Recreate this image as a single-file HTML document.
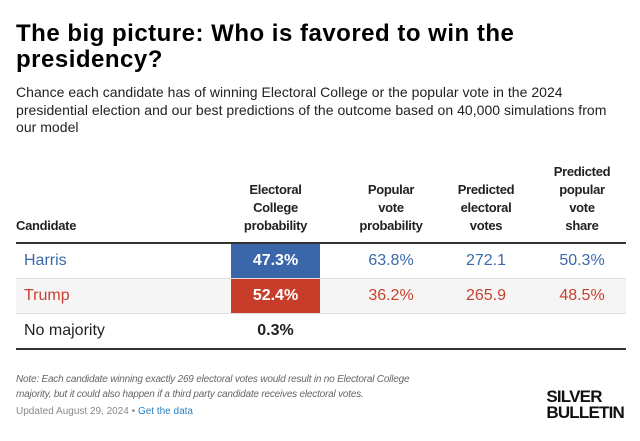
<!DOCTYPE html>
<html><head><meta charset="utf-8"><style>
body{margin:0;background:#fff;width:640px;height:441px;overflow:hidden;font-family:"Liberation Sans",Arial,sans-serif;position:relative}
.a{position:absolute;white-space:nowrap}
#title{left:16px;top:21px;font-size:24px;font-weight:bold;line-height:26px;color:#000;letter-spacing:0.5px}
#sub{left:16px;top:84px;font-size:14px;line-height:17.5px;color:#222;letter-spacing:0.03px}
.h{position:absolute;font-size:13px;font-weight:bold;line-height:18px;text-align:center;color:#222;letter-spacing:-0.3px}
.c{position:absolute;font-size:16px;text-align:center;height:34px;line-height:34px}
.n{position:absolute;font-size:16px;line-height:34px}
.blue{color:#3a6aa8}.red{color:#c8402f}
#note{left:16px;top:372px;font-size:10px;line-height:15px;color:#666;font-style:italic;letter-spacing:-0.2px}
#upd{left:16px;top:406px;font-size:10px;color:#888}
#logo{right:16px;top:389px;font-size:17px;font-weight:bold;line-height:16px;color:#111;letter-spacing:-0.8px;text-align:left}
</style></head><body>
<div class="a" id="title">The big picture: Who is favored to win the<br>presidency?</div>
<div class="a" id="sub">Chance each candidate has of winning Electoral College or the popular vote in the 2024<br>presidential election and our best predictions of the outcome based on 40,000 simulations from<br>our model</div>

<div class="h" style="left:16px;top:217px;text-align:left">Candidate</div>
<div class="h" style="left:231px;width:89px;top:181px">Electoral<br>College<br>probability</div>
<div class="h" style="left:345px;width:92px;top:181px">Popular<br>vote<br>probability</div>
<div class="h" style="left:440px;width:92px;top:181px">Predicted<br>electoral<br>votes</div>
<div class="h" style="left:536px;width:92px;top:163px">Predicted<br>popular<br>vote<br>share</div>

<div class="a" style="left:16px;top:242px;width:610px;height:2px;background:#333"></div>
<div class="a" style="left:16px;top:278px;width:610px;height:1px;background:#ddd"></div>
<div class="a" style="left:16px;top:279px;width:610px;height:34px;background:#f5f5f5"></div>
<div class="a" style="left:16px;top:313px;width:610px;height:1px;background:#ddd"></div>
<div class="a" style="left:16px;top:348px;width:610px;height:2px;background:#333"></div>

<div class="n blue" style="left:24px;top:244px">Harris</div>
<div class="c" style="left:231px;width:89px;top:244px;background:#3a67aa;color:#fff;font-weight:bold">47.3%</div>
<div class="c blue" style="left:345px;width:92px;top:244px">63.8%</div>
<div class="c blue" style="left:440px;width:92px;top:244px">272.1</div>
<div class="c blue" style="left:536px;width:92px;top:244px">50.3%</div>

<div class="n red" style="left:24px;top:279px">Trump</div>
<div class="c" style="left:231px;width:89px;top:279px;background:#c83d29;color:#fff;font-weight:bold">52.4%</div>
<div class="c red" style="left:345px;width:92px;top:279px">36.2%</div>
<div class="c red" style="left:440px;width:92px;top:279px">265.9</div>
<div class="c red" style="left:536px;width:92px;top:279px">48.5%</div>

<div class="n" style="left:24px;top:314px;color:#222">No majority</div>
<div class="c" style="left:231px;width:89px;top:314px;color:#222;font-weight:bold">0.3%</div>

<div class="a" id="note">Note: Each candidate winning exactly 269 electoral votes would result in no Electoral College<br>majority, but it could also happen if a third party candidate receives electoral votes.</div>
<div class="a" id="upd">Updated August 29, 2024 • <span style="color:#2a7fc0">Get the data</span></div>
<div class="a" id="logo">SILVER<br>BULLETIN</div>
</body></html>
